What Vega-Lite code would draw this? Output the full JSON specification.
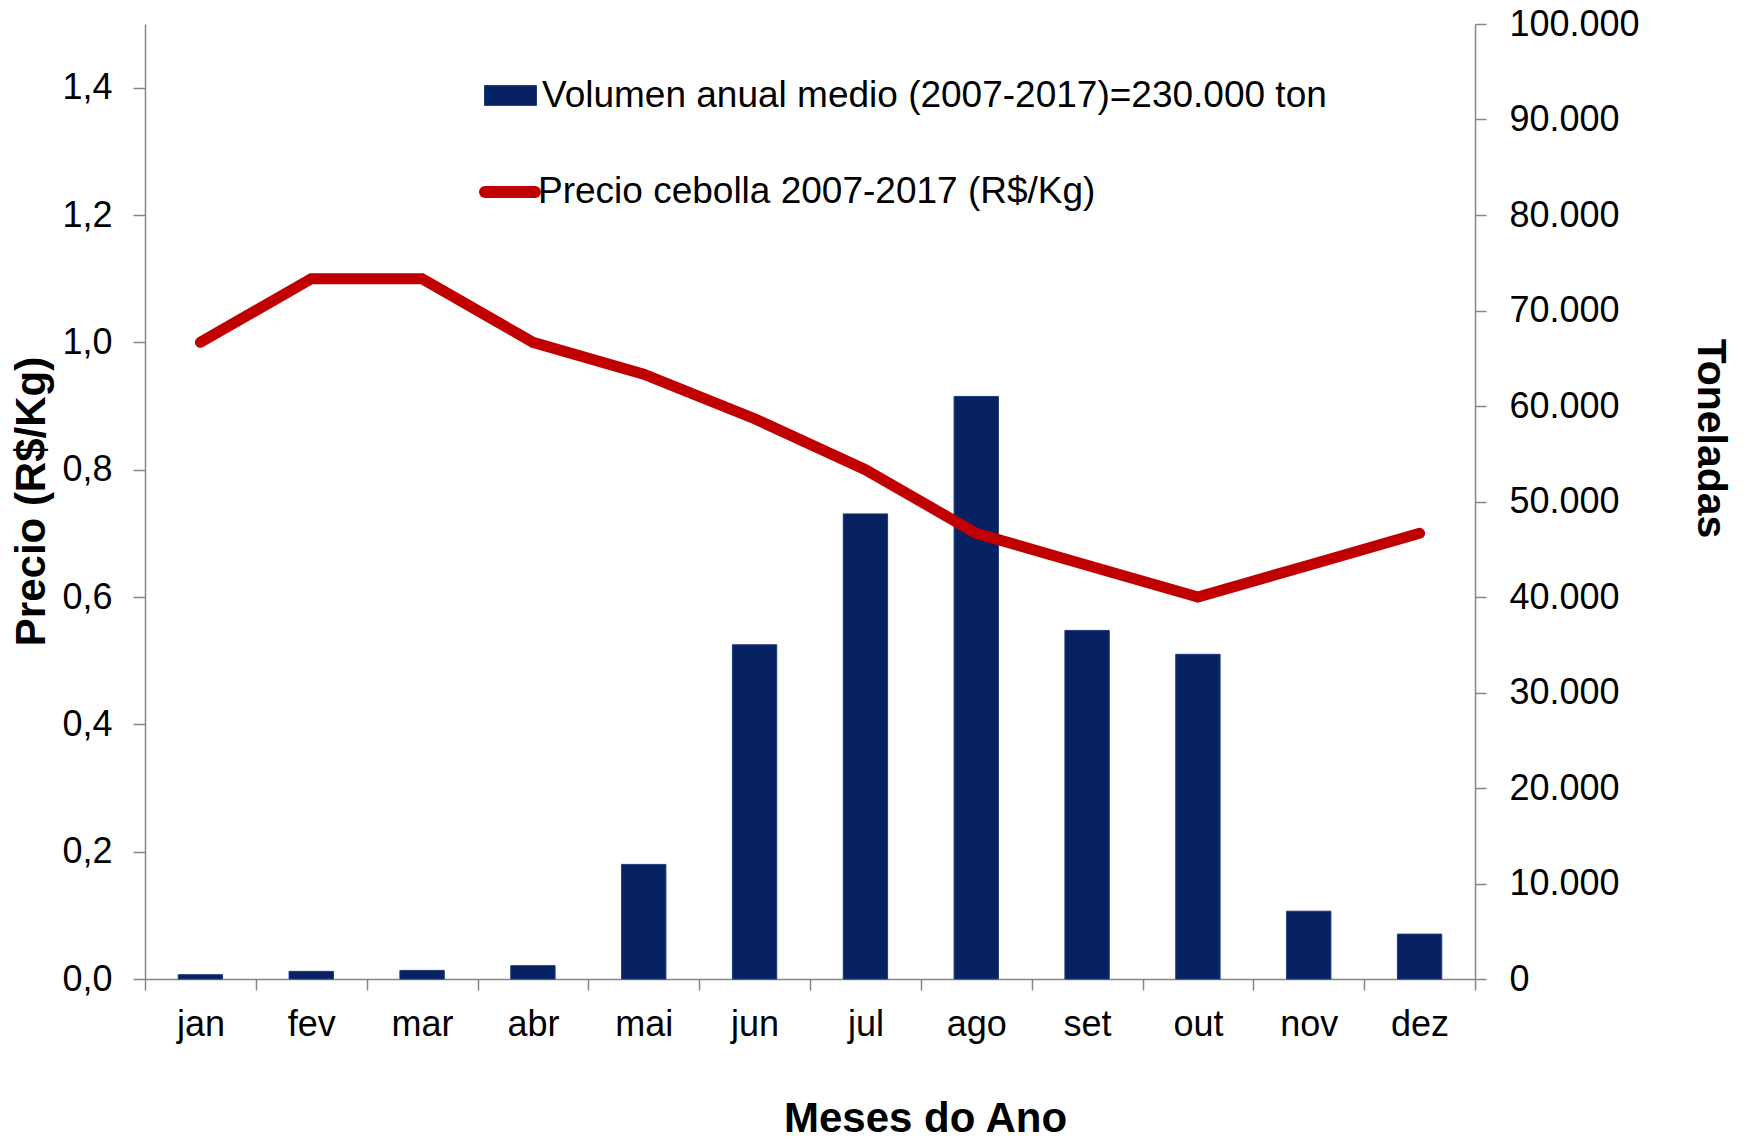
{
  "$schema": "https://vega.github.io/schema/vega-lite/v6.json",
  "width": 1330,
  "height": 955,
  "autosize": {"type": "none"},
  "padding": {"left": 145, "top": 24, "right": 273, "bottom": 160},
  "background": "white",
  "config": {
    "font": "Liberation Sans",
    "view": {"stroke": null},
    "locale": {"number": {"decimal": ",", "thousands": ".", "grouping": [3], "currency": ["R$", ""]}},
    "axis": {
      "grid": false,
      "domainColor": "#868686",
      "tickColor": "#868686",
      "domainWidth": 1.5,
      "tickWidth": 1.5,
      "labelColor": "#000000",
      "labelFont": "Liberation Sans",
      "labelFontSize": 36,
      "titleFont": "Liberation Sans",
      "titleColor": "#000000",
      "titleFontWeight": "bold"
    }
  },
  "data": {
    "values": [
      {"mes": "jan", "volume": 450, "preco": 1.0},
      {"mes": "fev", "volume": 800, "preco": 1.1},
      {"mes": "mar", "volume": 900, "preco": 1.1},
      {"mes": "abr", "volume": 1400, "preco": 1.0},
      {"mes": "mai", "volume": 12000, "preco": 0.95},
      {"mes": "jun", "volume": 35000, "preco": 0.88},
      {"mes": "jul", "volume": 48700, "preco": 0.8},
      {"mes": "ago", "volume": 61000, "preco": 0.7},
      {"mes": "set", "volume": 36500, "preco": 0.65},
      {"mes": "out", "volume": 34000, "preco": 0.6},
      {"mes": "nov", "volume": 7100, "preco": 0.65},
      {"mes": "dez", "volume": 4700, "preco": 0.7}
    ]
  },
  "layer": [
    {
      "mark": {"type": "bar", "width": {"band": 0.4}, "stroke": "#1d3a7a", "strokeWidth": 1},
      "encoding": {
        "x": {
          "field": "mes",
          "type": "ordinal",
          "sort": ["jan", "fev", "mar", "abr", "mai", "jun", "jul", "ago", "set", "out", "nov", "dez"],
          "scale": {"paddingInner": 0, "paddingOuter": 0},
          "axis": {
            "title": "Meses do Ano",
            "titleFontSize": 42,
            "titleX": 780,
            "titleY": 152,
            "titleAnchor": null,
            "titleAlign": "center",
            "titleBaseline": "alphabetic",
            "labelAngle": 0,
            "tickBand": "extent",
            "tickSize": 11,
            "labelPadding": 17
          }
        },
        "y": {
          "field": "volume",
          "type": "quantitative",
          "scale": {"domain": [0, 100000], "nice": false},
          "axis": {
            "orient": "right",
            "title": "Toneladas",
            "titleFontSize": 41,
            "titleAngle": 90,
            "titleX": 234,
            "titleY": 414,
            "titleAlign": "center",
            "titleBaseline": "middle",
            "values": [0, 10000, 20000, 30000, 40000, 50000, 60000, 70000, 80000, 90000, 100000],
            "format": ",d",
            "tickSize": 11,
            "labelPadding": 23
          }
        },
        "fill": {
          "datum": "Volumen anual medio (2007-2017)=230.000 ton",
          "scale": {"range": ["#062262"]},
          "legend": {
            "orient": "none",
            "legendX": 339,
            "legendY": 45,
            "title": null,
            "padding": 0,
            "symbolType": "M-1,-0.38H1V0.38H-1Z",
            "symbolSize": 2704,
            "symbolStrokeColor": "#1d3a7a",
            "symbolStrokeWidth": 1,
            "labelFontSize": 37,
            "labelFont": "Liberation Sans",
            "labelColor": "#000000",
            "labelOffset": 5,
            "labelLimit": 1000
          }
        }
      }
    },
    {
      "mark": {"type": "line", "strokeWidth": 11, "strokeCap": "round", "strokeJoin": "miter"},
      "encoding": {
        "x": {
          "field": "mes",
          "type": "ordinal",
          "sort": ["jan", "fev", "mar", "abr", "mai", "jun", "jul", "ago", "set", "out", "nov", "dez"]
        },
        "y": {
          "field": "preco",
          "type": "quantitative",
          "scale": {"domain": [0, 1.5], "nice": false},
          "axis": {
            "orient": "left",
            "title": "Precio (R$/Kg)",
            "titleFontSize": 42,
            "titleAngle": -90,
            "titleX": -114,
            "titleY": 477,
            "titleAlign": "center",
            "titleBaseline": "middle",
            "values": [0, 0.2, 0.4, 0.6, 0.8, 1.0, 1.2, 1.4],
            "format": ".1f",
            "tickSize": 12,
            "labelPadding": 21
          }
        },
        "stroke": {
          "datum": "Precio cebolla 2007-2017 (R$/Kg)",
          "scale": {"range": ["#C00000"]},
          "legend": {
            "orient": "none",
            "legendX": 334,
            "legendY": 137,
            "title": null,
            "padding": 0,
            "symbolType": "stroke",
            "symbolSize": 2500,
            "symbolStrokeWidth": 12,
            "labelFontSize": 37,
            "labelFont": "Liberation Sans",
            "labelColor": "#000000",
            "labelOffset": -3,
            "labelLimit": 1000,
            "encode": {"symbols": {"update": {"strokeCap": {"value": "round"}}}}
          }
        }
      }
    }
  ],
  "resolve": {"scale": {"y": "independent"}}
}
